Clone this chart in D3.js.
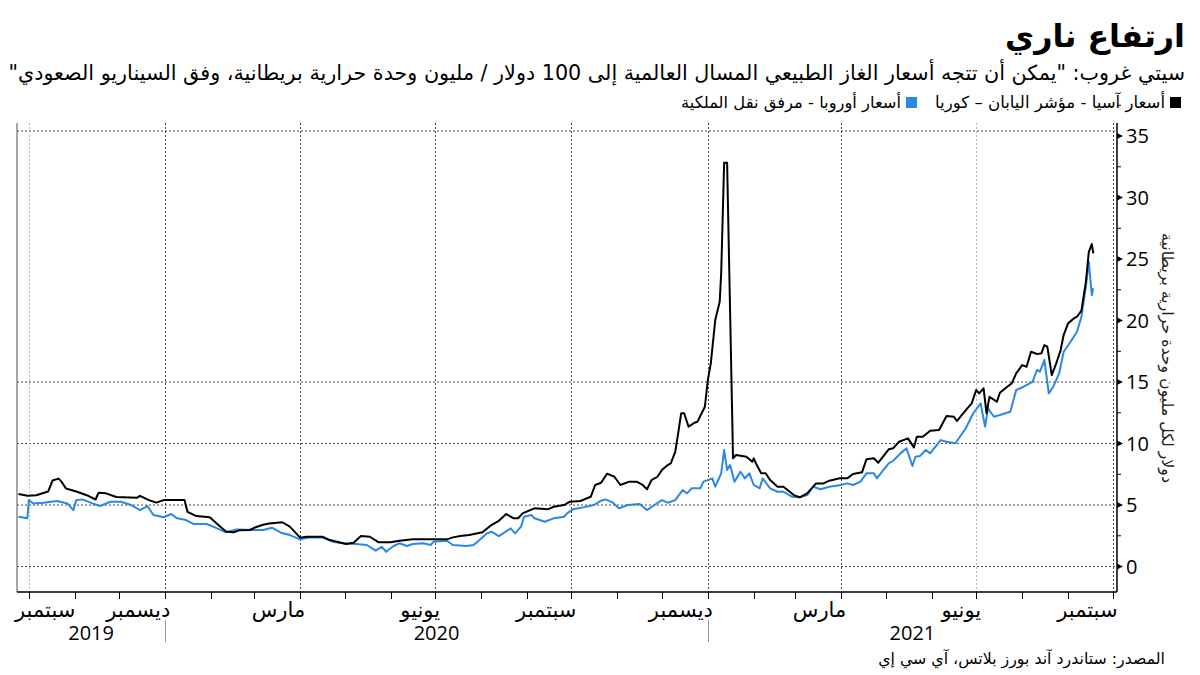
<!DOCTYPE html>
<html>
<head>
<meta charset="utf-8">
<script src="https://cdn.jsdelivr.net/npm/d3@7"></script>
<style>
body{margin:0;background:#fff;}
svg{display:block;}
</style>
</head>
<body>
<div id="chart"></div>
<script>
// ====================== data ===========================
var asiaDates=["2019-09-24","2019-09-30","2019-10-06","2019-10-14","2019-10-17","2019-10-21","2019-10-23","2019-10-26","2019-11-02","2019-11-09","2019-11-15","2019-11-17","2019-11-22","2019-11-29","2019-12-13","2019-12-15","2019-12-21","2019-12-26","2019-12-31",
	"2020-01-14","2020-01-16","2020-01-22","2020-01-31","2020-02-07","2020-02-11","2020-02-16","2020-02-20","2020-02-27","2020-03-02","2020-03-07","2020-03-11","2020-03-20","2020-03-25","2020-04-01","2020-04-05","2020-04-16","2020-04-21","2020-05-02","2020-05-07","2020-05-12","2020-05-18","2020-05-24","2020-06-01","2020-06-07","2020-06-16","2020-06-25","2020-07-09","2020-07-13","2020-07-18","2020-07-24","2020-08-02","2020-08-08","2020-08-13","2020-08-18","2020-08-23","2020-08-26","2020-08-29","2020-09-06","2020-09-15","2020-09-19","2020-09-26","2020-09-30","2020-10-07","2020-10-14","2020-10-17","2020-10-21","2020-10-25","2020-10-30","2020-11-03","2020-11-09","2020-11-14","2020-11-18","2020-11-21","2020-11-24","2020-11-28","2020-12-01","2020-12-05","2020-12-07","2020-12-10","2020-12-12","2020-12-14","2020-12-16","2020-12-19","2020-12-23","2020-12-25","2020-12-30",
	"2021-01-01","2021-01-03","2021-01-06","2021-01-09","2021-01-10","2021-01-12","2021-01-14","2021-01-18","2021-01-20","2021-01-27","2021-01-31","2021-02-01","2021-02-03","2021-02-06","2021-02-09","2021-02-12","2021-02-17","2021-02-21","2021-02-28","2021-03-04","2021-03-09","2021-03-15","2021-03-20","2021-03-24","2021-03-31","2021-04-05","2021-04-09","2021-04-15","2021-04-18","2021-04-23","2021-04-26","2021-05-03","2021-05-06","2021-05-10","2021-05-16","2021-05-20","2021-05-22","2021-05-26","2021-05-31","2021-06-06","2021-06-11","2021-06-16","2021-06-18","2021-06-24","2021-06-28","2021-07-01","2021-07-03","2021-07-06","2021-07-08","2021-07-10","2021-07-15","2021-07-17","2021-07-22","2021-07-25","2021-07-28","2021-08-01","2021-08-04","2021-08-07","2021-08-11","2021-08-14","2021-08-16","2021-08-18","2021-08-21","2021-08-24","2021-08-27","2021-08-29","2021-09-01","2021-09-05","2021-09-07","2021-09-10","2021-09-13","2021-09-15","2021-09-17","2021-09-18"];
var asiaValues=[5.9,5.75,5.8,6.1,7.0,7.15,6.9,6.35,6.1,5.8,5.45,6.0,5.95,5.65,5.6,5.75,5.4,5.2,5.4,
	5.4,4.45,4.1,4.0,3.25,2.85,2.78,2.95,2.97,3.2,3.4,3.5,3.6,3.25,2.35,2.42,2.42,2.15,1.83,1.94,2.48,2.42,1.97,1.97,2.1,2.21,2.21,2.21,2.37,2.48,2.56,2.78,3.37,3.72,4.27,3.92,3.92,4.32,4.73,4.65,4.86,5.0,5.27,5.33,5.67,6.63,6.81,7.55,7.3,6.63,6.9,6.9,6.63,6.28,7.03,7.3,7.85,8.25,8.39,9.33,10.83,12.46,12.46,11.37,11.69,11.77,12.99,
	15.16,16.52,20.04,21.53,23.84,32.83,32.83,8.8,9.07,8.93,8.52,8.8,8.25,7.58,7.58,7.03,6.49,6.49,5.81,5.63,5.95,6.76,6.76,6.98,7.17,7.17,7.52,7.66,8.72,8.8,8.44,9.53,9.61,10.15,10.42,9.69,10.55,10.55,11.04,11.1,12.24,12.18,11.83,12.72,13.27,14.35,14.08,14.49,12.46,13.8,13.4,14.13,14.62,14.89,15.7,16.38,16.24,17.46,17.28,17.33,18.0,17.87,15.57,16.52,17.6,18.82,19.77,20.18,20.31,20.8,23.15,25.59,26.22,25.46];

var europeDates=["2019-09-24","2019-09-30","2019-10-01","2019-10-04","2019-10-11","2019-10-20","2019-10-27","2019-10-31","2019-11-02","2019-11-06","2019-11-13","2019-11-18","2019-11-25","2019-12-02","2019-12-09","2019-12-15","2019-12-20","2019-12-24","2019-12-31",
	"2020-01-05","2020-01-09","2020-01-15","2020-01-20","2020-01-29","2020-02-05","2020-02-11","2020-02-18","2020-02-29","2020-03-07","2020-03-13","2020-03-19","2020-03-25","2020-04-01","2020-04-08","2020-04-16","2020-04-23","2020-04-30","2020-05-09","2020-05-16","2020-05-22","2020-05-26","2020-05-29","2020-06-03","2020-06-07","2020-06-12","2020-06-16","2020-06-23","2020-06-28","2020-06-30","2020-07-09","2020-07-13","2020-07-22","2020-07-27","2020-07-31","2020-08-05","2020-08-08","2020-08-13","2020-08-21","2020-08-24","2020-08-28","2020-08-30","2020-09-04","2020-09-06","2020-09-13","2020-09-19","2020-09-26","2020-09-28","2020-10-02","2020-10-09","2020-10-16","2020-10-21","2020-10-24","2020-10-29","2020-11-02","2020-11-08","2020-11-16","2020-11-21","2020-11-26","2020-12-01","2020-12-05","2020-12-10","2020-12-15","2020-12-18","2020-12-21","2020-12-27","2020-12-29",
	"2021-01-04","2021-01-06","2021-01-10","2021-01-12","2021-01-14","2021-01-16","2021-01-19","2021-01-23","2021-01-26","2021-01-29","2021-02-01","2021-02-05","2021-02-07","2021-02-12","2021-02-17","2021-02-21","2021-02-27","2021-03-04","2021-03-09","2021-03-13","2021-03-18","2021-03-24","2021-03-31","2021-04-05","2021-04-09","2021-04-14","2021-04-18","2021-04-23","2021-04-25","2021-05-03","2021-05-06","2021-05-11","2021-05-15","2021-05-19","2021-05-21","2021-05-24","2021-05-28","2021-05-31","2021-06-07","2021-06-11","2021-06-17","2021-06-24","2021-06-29","2021-07-04","2021-07-07","2021-07-09","2021-07-13","2021-07-17","2021-07-24","2021-07-28","2021-08-02","2021-08-08","2021-08-11","2021-08-13","2021-08-16","2021-08-19","2021-08-22","2021-08-26","2021-08-29","2021-09-02","2021-09-07","2021-09-10","2021-09-13","2021-09-15","2021-09-17","2021-09-18"];
var europeValues=[4.05,3.92,5.4,5.13,5.19,5.33,5.13,4.59,5.4,5.46,5.13,4.92,5.27,5.27,5.0,4.59,4.92,4.19,4.0,
	4.27,3.92,3.78,3.46,3.46,3.1,2.78,3.02,2.97,2.97,3.16,2.75,2.56,2.21,2.37,2.37,2.02,1.89,1.83,1.75,1.29,1.61,1.2,1.67,1.89,1.67,1.83,1.89,1.75,2.02,2.1,1.75,1.67,1.75,2.15,2.7,2.83,2.48,3.1,2.7,3.24,4.05,4.19,3.92,3.64,3.92,4.05,4.32,4.65,4.81,5.0,5.35,5.46,5.19,4.73,5.0,5.08,4.59,5.0,5.4,5.19,5.4,6.22,5.95,6.36,6.36,6.9,
	7.17,6.49,7.58,9.47,7.85,8.25,6.9,7.71,7.17,7.58,6.63,6.36,7.17,6.36,6.08,6.08,5.67,5.63,5.81,6.49,6.28,6.49,6.6,6.76,6.63,6.9,7.58,7.58,7.17,8.39,8.6,9.2,9.61,8.17,8.93,8.98,9.47,9.2,10.28,10.15,10.02,11.24,12.46,13.27,11.37,12.86,12.18,12.32,12.59,14.35,14.62,15.02,15.98,15.84,16.79,14.08,14.62,15.7,17.46,18.15,19.09,20.31,22.75,24.78,22.07,22.62];

var yTicks=[0,5,10,15,20,25,30,35];
var yGridTicks=[0,5,10,15];
var quarterDates=["2019-10-01","2020-01-01","2020-04-01","2020-07-01","2020-10-01","2021-01-01","2021-04-01","2021-07-01","2021-10-01"];
var quarterLabels=["سبتمبر","ديسمبر","مارس","يونيو","سبتمبر","ديسمبر","مارس","يونيو","سبتمبر"];
var lightGridDates=["2019-10-01","2021-07-01"];
var yearLabels=["2019","2020","2021"];
var yearBreaks=["2020-01-01","2021-01-01"];

var titleText="ارتفاع ناري";
var subtitleText="سيتي غروب: \"يمكن أن تتجه أسعار الغاز الطبيعي المسال العالمية إلى 100 دولار / مليون وحدة حرارية بريطانية، وفق السيناريو الصعودي\"";
var legendNames=["أسعار آسيا - مؤشر اليابان – كوريا","أسعار أوروبا - مرفق نقل الملكية"];
var lineColors=["#000000","#2a88e4"];
var yAxisTitle="دولار لكل مليون وحدة حرارية بريطانية";
var sourceText="المصدر: ستاندرد آند بورز بلاتس، آي سي إي";

// ====================== setup ===========================
var width=1200,height=675;
var plotL=17,plotR=1117,plotT=123,plotB=592,borderT=131;
var arFont="'DejaVu Sans', sans-serif";
var numFont="'Open Sans', sans-serif";
var parse=d3.timeParse("%Y-%m-%d");

var svg=d3.select("#chart").append("svg")
	.attr("width",width).attr("height",height);

var x=d3.scaleTime()
	.domain([parse("2019-09-23"),parse("2021-10-04")])
	.range([plotL,plotR]);
var y=d3.scaleLinear()
	.domain([-2.07,36.06])
	.range([plotB,plotT]);

// shrink/grow text so it spans a given width
function fitText(sel,w){
	var node=sel.node();
	var fs=parseFloat(sel.attr("font-size"));
	var len=node.getComputedTextLength();
	if(len>0){sel.attr("font-size",(fs*w/len).toFixed(2));}
	return sel;
}
// arabic text, anchored by its right edge at x
function arText(g,xx,yy,size,txt){
	return g.append("text").attr("x",xx).attr("y",yy)
		.attr("direction","rtl").attr("text-anchor","start")
		.attr("font-family",arFont).attr("font-size",size).attr("fill","#000")
		.text(txt);
}

// ====================== titles ===========================
fitText(arText(svg,1185,47,32,titleText).attr("font-weight","bold"),180);
fitText(arText(svg,1185,80,20,subtitleText),1177);

// ====================== legend ===========================
var legendX=[1181,917];
var legendW=[230,220];
legendNames.forEach(function(name,i){
	svg.append("rect").attr("x",legendX[i]-11).attr("y",97)
		.attr("width",11).attr("height",11).attr("fill",lineColors[i]);
	fitText(arText(svg,legendX[i]-16,108,15,name),legendW[i]);
});

// ====================== grid ===========================
var grid=svg.append("g").attr("class","grid");
grid.selectAll("line.h").data(yGridTicks).enter().append("line")
	.attr("class","h")
	.attr("x1",plotL).attr("x2",plotR)
	.attr("y1",function(d){return y(d);}).attr("y2",function(d){return y(d);})
	.attr("stroke","#444").attr("stroke-width",1).attr("stroke-dasharray","2,2");
grid.append("line")
	.attr("x1",plotL).attr("x2",plotR).attr("y1",borderT).attr("y2",borderT)
	.attr("stroke","#444").attr("stroke-width",1).attr("stroke-dasharray","2,2");
grid.selectAll("line.v").data(quarterDates).enter().append("line")
	.attr("class","v")
	.attr("x1",function(d){return Math.round(x(parse(d)))+0.5;})
	.attr("x2",function(d){return Math.round(x(parse(d)))+0.5;})
	.attr("y1",plotT).attr("y2",plotB)
	.attr("stroke",function(d){return lightGridDates.indexOf(d)>=0?"#bbb":"#444";})
	.attr("stroke-width",1).attr("stroke-dasharray","2,2");

// left border
svg.append("line").attr("x1",plotL).attr("x2",plotL).attr("y1",plotT).attr("y2",plotB)
	.attr("stroke","#888").attr("stroke-width",1.5);

// ====================== lines ===========================
var line=d3.line()
	.x(function(d){return x(d[0]);})
	.y(function(d){return y(d[1]);});

var series=[
	d3.zip(europeDates.map(parse),europeValues),
	d3.zip(asiaDates.map(parse),asiaValues)
];
var seriesColor=[lineColors[1],lineColors[0]];
series.forEach(function(s,i){
	svg.append("path").datum(s)
		.attr("d",line)
		.attr("fill","none")
		.attr("stroke",seriesColor[i])
		.attr("stroke-width",2)
		.attr("stroke-linejoin","round");
});

// ====================== y axis (right) ===========================
var yAxis=svg.append("g").attr("class","yaxis");
yAxis.append("line").attr("x1",plotR).attr("x2",plotR).attr("y1",plotT).attr("y2",plotB)
	.attr("stroke","#000").attr("stroke-width",1.5);
var minorTicks=yTicks.map(function(d){return d+2.5;});
yAxis.selectAll("line.minor").data(minorTicks).enter().append("line")
	.attr("class","minor")
	.attr("x1",plotR).attr("x2",plotR+4)
	.attr("y1",function(d){return y(d);}).attr("y2",function(d){return y(d);})
	.attr("stroke","#000").attr("stroke-width",1);
yAxis.selectAll("path.tri").data(yTicks).enter().append("path")
	.attr("class","tri")
	.attr("d",function(d){var yy=y(d);return "M"+plotR+","+(yy-3)+"L"+(plotR+6)+","+yy+"L"+plotR+","+(yy+3)+"Z";})
	.attr("fill","#000");
yAxis.selectAll("text").data(yTicks).enter().append("text")
	.attr("x",plotR+9).attr("y",function(d){return y(d)+7;})
	.attr("font-family",numFont).attr("font-size",20).attr("fill","#000")
	.text(function(d){return d;});

fitText(svg.append("text")
	.attr("transform","translate(1162,358) rotate(90)")
	.attr("direction","rtl").attr("text-anchor","middle").attr("font-family",arFont)
	.attr("font-size",15).attr("fill","#222").text(yAxisTitle),250);

// ====================== x axis ===========================
var xAxis=svg.append("g").attr("class","xaxis");
xAxis.append("line").attr("x1",plotL).attr("x2",plotR).attr("y1",plotB).attr("y2",plotB)
	.attr("stroke","#000").attr("stroke-width",1.5);
var monthTicks=d3.timeMonth.range(parse("2019-10-01"),parse("2021-10-02"));
xAxis.selectAll("line.tick").data(monthTicks).enter().append("line")
	.attr("class","tick")
	.attr("x1",function(d){return Math.round(x(d))+0.5;})
	.attr("x2",function(d){return Math.round(x(d))+0.5;})
	.attr("y1",plotB).attr("y2",plotB+7)
	.attr("stroke","#000").attr("stroke-width",1);
// month names sit just left of their gridline (first one pushed inside)
xAxis.selectAll("text.month").data(quarterDates).enter().append("text")
	.attr("class","month")
	.attr("x",function(d,i){return i==0?15:x(parse(d))+5;})
	.attr("y",617)
	.attr("direction","rtl")
	.attr("text-anchor",function(d,i){return i==0?"end":"start";})
	.attr("font-family",arFont).attr("font-size",21).attr("fill","#000")
	.text(function(d,i){return quarterLabels[i];});

// year labels centred between breaks
var yearEdges=[plotL].concat(yearBreaks.map(function(d){return x(parse(d));}),[plotR]);
xAxis.selectAll("line.year").data(yearBreaks).enter().append("line")
	.attr("class","year")
	.attr("x1",function(d){return Math.round(x(parse(d)))+0.5;})
	.attr("x2",function(d){return Math.round(x(parse(d)))+0.5;})
	.attr("y1",620).attr("y2",642)
	.attr("stroke","#999").attr("stroke-width",1);
xAxis.selectAll("text.year").data(yearLabels).enter().append("text")
	.attr("class","year")
	.attr("x",function(d,i){return (yearEdges[i]+yearEdges[i+1])/2;})
	.attr("y",640)
	.attr("text-anchor","middle").attr("font-family",numFont).attr("font-size",20).attr("fill","#000")
	.text(function(d){return d;});

// ====================== source ===========================
fitText(arText(svg,1165,664,16,sourceText),287);
</script>
</body>
</html>
